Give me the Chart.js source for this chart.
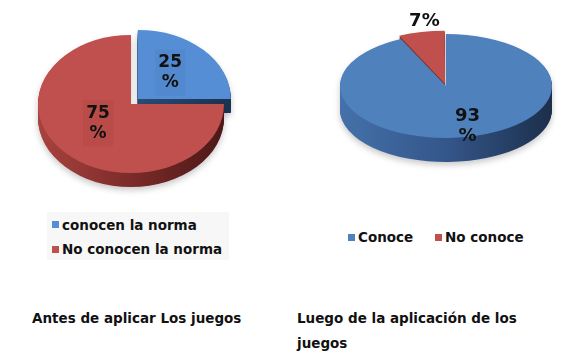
<!DOCTYPE html>
<html><head><meta charset="utf-8">
<script src="https://cdn.jsdelivr.net/npm/chart.js@4.4.1/dist/chart.umd.min.js"></script>
<style>
html,body{margin:0;padding:0;background:#fff;width:563px;height:355px;overflow:hidden;}
body{position:relative;font-family:"DejaVu Sans",sans-serif;font-weight:bold;font-size:13.5px;color:#111;}
canvas{position:absolute;top:0;}
#c1{left:0;} #c2{left:283px;}
.lgbox{position:absolute;background:#f7f7f7;}
.sw{position:absolute;width:7px;height:7px;}
.tx{position:absolute;line-height:16px;white-space:nowrap;}
</style></head>
<body>
<canvas id="c1" width="280" height="205"></canvas>
<canvas id="c2" width="280" height="205"></canvas>
<div id="lg1" class="lgbox" style="left:47px;top:212px;width:182px;height:48px;"></div>
<script>
// ---- data ----
const leftCategories = ['conocen la norma', 'No conocen la norma'];
const leftValues = [25, 75];
const leftLabels = ['25\n%', '75\n%'];
const rightCategories = ['Conoce', 'No conoce'];
const rightValues = [93, 7];
const rightLabels = ['93\n%', '7%'];
const leftTitle = ['Antes de aplicar Los juegos'];
const rightTitle = ['Luego de la aplicación de los', 'juegos'];

// ---- styles ----
const leftColors = ['#558ED5', '#C0504D'];
const rightColors = ['#4F81BD', '#C0504D'];

const pie3d = {
  id: 'pie3d',
  _geom(chart) {
    const meta = chart.getDatasetMeta(0);
    const a0 = meta.data[0];
    return {meta, cx: a0.x, cy: a0.y, R: a0.outerRadius};
  },
  beforeDatasetsDraw(chart, args, o) {
    const ctx = chart.ctx;
    const {meta, cx, cy, R} = this._geom(chart);
    const sx = o.rx / R, sy = o.ry / R;
    const w = chart.canvas.width, h = chart.canvas.height;
    const order = meta.data.map((el, i) => i).sort((a, b) => {
      const ea = meta.data[a], eb = meta.data[b];
      return Math.sin((ea.startAngle + ea.endAngle) / 2) - Math.sin((eb.startAngle + eb.endAngle) / 2);
    });
    order.forEach(i => {
      const el = meta.data[i];
      const off = document.createElement('canvas');
      off.width = w; off.height = h;
      const octx = off.getContext('2d');
      for (let d = o.depth; d >= 1; d--) {
        octx.save();
        octx.translate(o.cx, o.cy + d);
        octx.scale(sx, sy);
        octx.translate(-cx, -cy);
        el.draw(octx);
        octx.restore();
      }
      octx.globalCompositeOperation = 'source-atop';
      const g = octx.createLinearGradient(o.cx - o.rx, 0, o.cx + o.rx, 0);
      const sc = o.sideColors[i];
      g.addColorStop(0, sc[0]); g.addColorStop(0.5, sc[1]); g.addColorStop(1, sc[2]);
      octx.fillStyle = g;
      octx.fillRect(0, 0, w, h);
      ctx.save();
      ctx.setTransform(1, 0, 0, 1, 0, 0);
      ctx.shadowColor = 'rgba(0,0,0,0.22)';
      ctx.shadowBlur = 6; ctx.shadowOffsetY = 3;
      ctx.drawImage(off, 0, 0);
      ctx.restore();
    });
    ctx.save();
    ctx.translate(o.cx, o.cy);
    ctx.scale(sx, sy);
    ctx.translate(-cx, -cy);
  },
  afterDatasetsDraw(chart, args, o) {
    const ctx = chart.ctx;
    ctx.restore();
    const meta = chart.getDatasetMeta(0);
    const labels = chart.data.datasets[0].sliceLabels;
    meta.data.forEach((el, i) => {
      const mid = (el.startAngle + el.endAngle) / 2;
      const f = o.labelFrac[i];
      const x = o.cx + Math.cos(mid) * f * o.rx + o.labelNudge[i][0];
      const y = o.cy + Math.sin(mid) * f * o.ry + o.labelNudge[i][1];
      const lines = labels[i].split('\n');
      ctx.save();
      ctx.font = 'bold ' + o.fontSize + 'px "DejaVu Sans"';
      ctx.textAlign = 'center';
      ctx.textBaseline = 'middle';
      const lh = 20;
      const y0 = y - (lines.length - 1) * lh / 2;
      if (o.labelBox && lines.length > 1) {
        ctx.fillStyle = o.labelBox[i];
        ctx.fillRect(x - 15, y0 - 13, 30, lh * (lines.length - 1) + 26);
      }
      ctx.fillStyle = '#111';
      lines.forEach((t, k) => ctx.fillText(t, x, y0 + k * lh));
      ctx.restore();
    });
  }
};

function makePie(id, values, cats, colors, sliceLabels, offsets, p3) {
  return new Chart(document.getElementById(id), {
    type: 'pie',
    data: {
      labels: cats,
      datasets: [{
        data: values,
        sliceLabels: sliceLabels,
        backgroundColor: colors,
        borderWidth: 0,
        offset: offsets,
        clip: false
      }]
    },
    options: {
      responsive: false,
      animation: false,
      events: [],
      layout: {padding: 10},
      plugins: {legend: {display: false}, tooltip: {enabled: false}, pie3d: p3}
    },
    plugins: [pie3d]
  });
}

makePie('c1', leftValues, leftCategories, leftColors, leftLabels, [32, 0], {
  cx: 131, cy: 104, rx: 93, ry: 69, depth: 14,
  sideColors: [['#3a6293', '#2c4d78', '#1d3352'], ['#a8433f', '#7b2b29', '#4c1817']],
  labelFrac: [0.52, 0.5], labelNudge: [[5, -6], [0, -5]], fontSize: 17,
  labelBox: ['rgba(40,70,120,0.07)', 'rgba(90,20,20,0.06)']
});
makePie('c2', rightValues, rightCategories, rightColors, rightLabels, [0, 14], {
  cx: 163, cy: 86, rx: 106, ry: 52, depth: 24,
  sideColors: [['#4471aa', '#34568a', '#1c2f4b'], ['#9a3a37', '#7a2a28', '#4c1817']],
  labelFrac: [0.8, 1.28], labelNudge: [[3, 0], [8, 0]], fontSize: 18
});

// ---- legends (HTML text) ----
function addItem(x, y, color, text) {
  const s = document.createElement('div');
  s.className = 'sw'; s.style.left = x + 'px'; s.style.top = (y - 3.5) + 'px'; s.style.background = color;
  document.body.appendChild(s);
  const t = document.createElement('div');
  t.className = 'tx'; t.style.left = (x + 10) + 'px'; t.style.top = (y - 8) + 'px'; t.textContent = text;
  document.body.appendChild(t);
}
addItem(52, 224.5, leftColors[0], leftCategories[0]);
addItem(52, 249, leftColors[1], leftCategories[1]);
addItem(348, 237, rightColors[0], rightCategories[0]);
addItem(435, 237, rightColors[1], rightCategories[1]);

function addTitle(lines, x, y) {
  lines.forEach((l, k) => {
    const t = document.createElement('div');
    t.className = 'tx'; t.style.left = x + 'px'; t.style.top = (y - 8 + k * 25) + 'px'; t.textContent = l;
    document.body.appendChild(t);
  });
}
addTitle(leftTitle, 32, 318);
addTitle(rightTitle, 297, 318);
</script>
</body></html>
